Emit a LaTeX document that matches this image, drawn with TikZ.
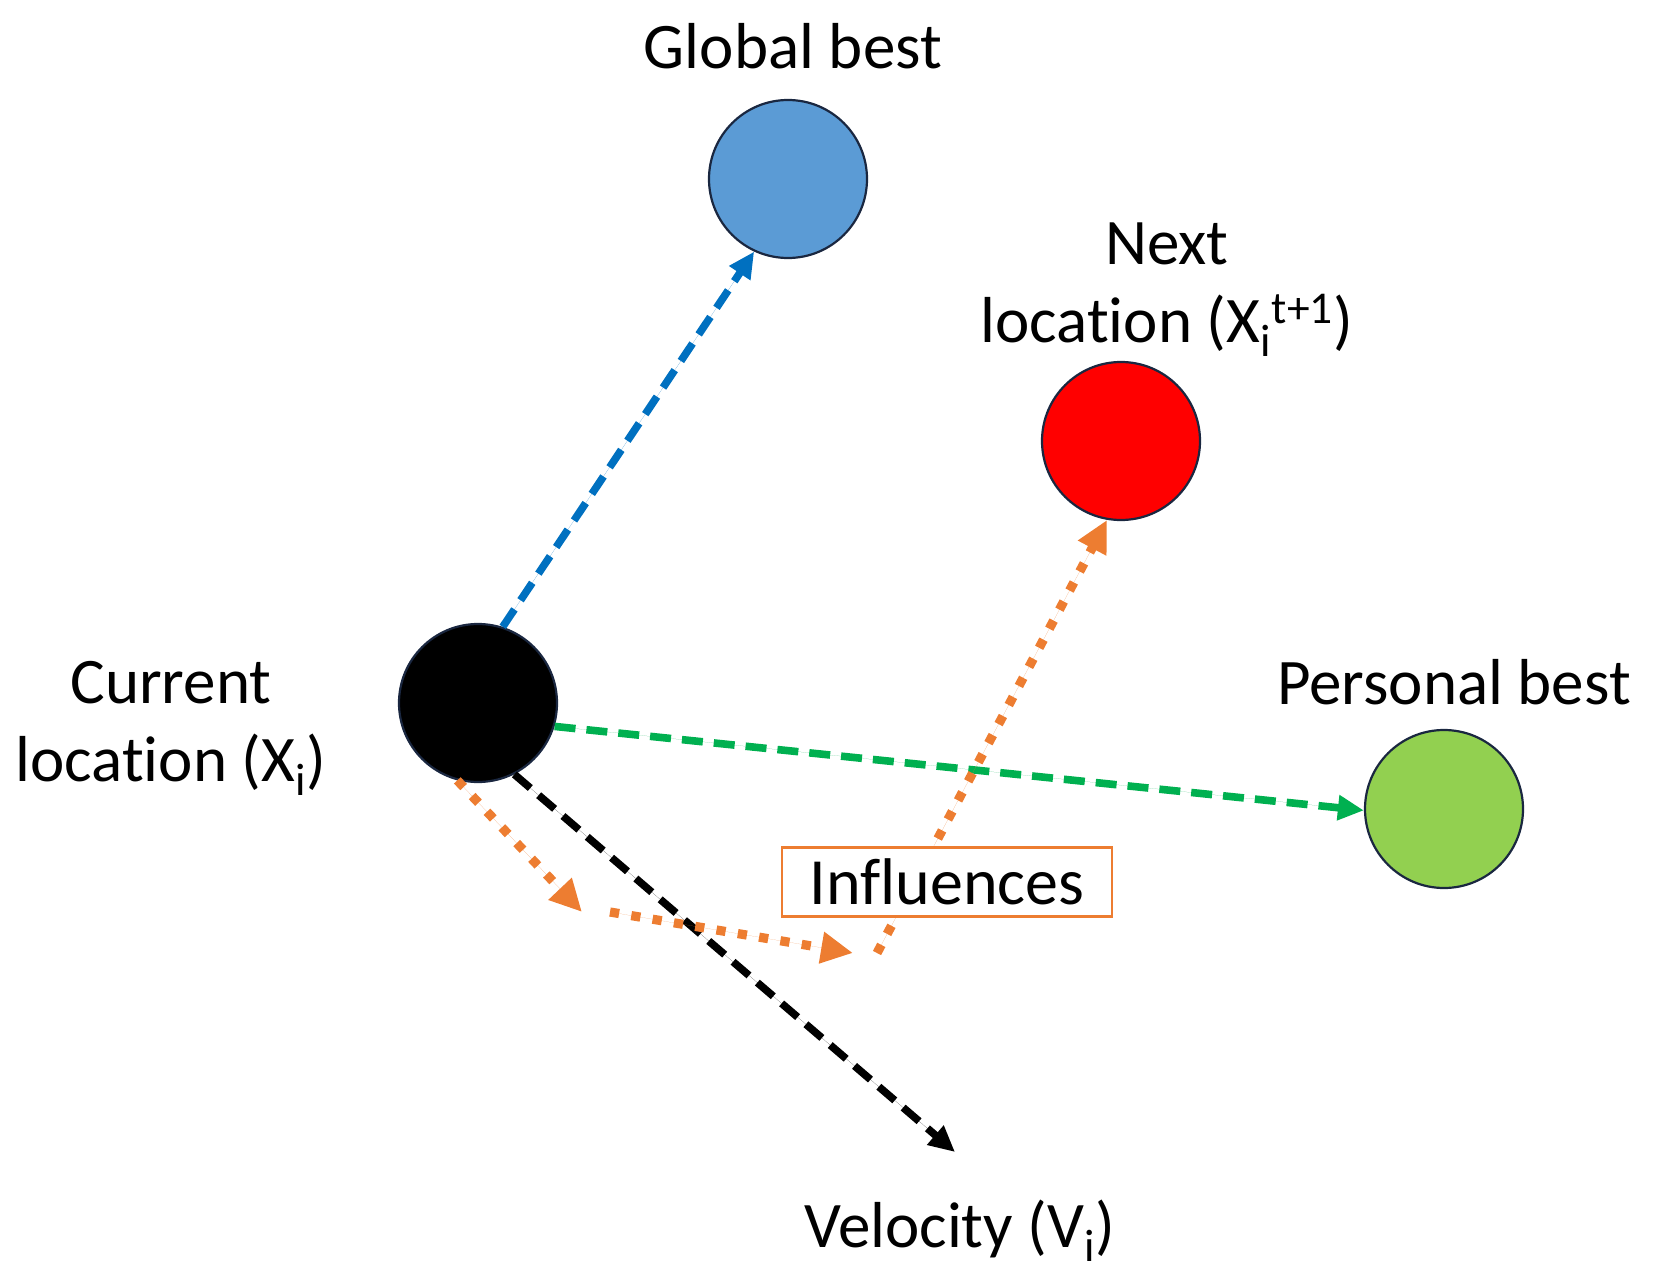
\documentclass[tikz,border=0pt]{standalone}
\usepackage{fontspec}
\setmainfont{Carlito}[Ligatures=NoCommon]
\usetikzlibrary{arrows.meta}
\definecolor{gbfill}{HTML}{5B9BD5}
\definecolor{pbfill}{HTML}{92D050}
\definecolor{nlfill}{HTML}{FF0000}
\definecolor{rim}{HTML}{1A2740}
\definecolor{bluearr}{HTML}{0070C0}
\definecolor{greenarr}{HTML}{00B050}
\definecolor{orangearr}{HTML}{ED7D31}
\tikzset{
  ball/.style={circle, draw=rim, line width=1.1pt, minimum size=79pt, inner sep=0pt},
  lbl/.style={font=\fontsize{32.5}{39}\selectfont, inner sep=0pt, align=center, anchor=base},
  dasharrow/.style={line width=3.8pt, dash pattern=on 10.5pt off 5.5pt, -{Triangle[length=13pt,width=12pt]}},
  dotarrow/.style={draw=orangearr, line width=4.6pt, dash pattern=on 4.6pt off 6.2pt, -{Triangle[length=16pt,width=15pt]}},
  infbox/.style={draw=orangearr, line width=1.3pt, fill=white, minimum width=165pt, minimum height=34.5pt, inner sep=0pt, font=\fontsize{33}{39}\selectfont}
}
\begin{document}
\begin{tikzpicture}[x=0.5pt, y=-0.5pt]
\useasboundingbox (0,0) rectangle (1655,1284);
% circles
\node[ball, fill=gbfill] (gb) at (788,179) {};
\node[ball, fill=nlfill] (nl) at (1121,441) {};
\node[ball, fill=black] (cur) at (478,703) {};
\node[ball, fill=pbfill] (pb) at (1444,809) {};
% labels
\node[lbl] (gbl) at (793,69) {Global best};
\node[lbl] (nll) at (1167,342) {Next\\location (X\textsubscript{i}\textsuperscript{t+1})};
\node[lbl] (curl) at (171,781) {Current\\location (X\textsubscript{i})};
\node[lbl] (pbl) at (1454,704) {Personal best};
\node[lbl] (vell) at (960,1247) {Velocity (V\textsubscript{i})};
% coordinates
\coordinate (vtip) at (955,1152);
\coordinate (o1) at (582,912);
\coordinate (o2) at (610,912);
\coordinate (o3) at (853,953);
\coordinate (o4) at (877,953);
% connectors
\draw[dasharrow, draw=bluearr, fill=bluearr] (cur.72) -- (gb.245);
\draw[dasharrow, draw=greenarr, fill=greenarr] (cur.-17.7) -- (pb.181);
\draw[dasharrow, draw=black, fill=black] (cur.-63) -- (vtip);
\draw[dotarrow, fill=orangearr] (cur.-105) -- (o1);
\draw[dotarrow, fill=orangearr] (o2) -- (o3);
\draw[dotarrow, fill=orangearr] (o4) -- (nl.260);
\node[infbox] (inf) at (947,882) {Influences};
\end{tikzpicture}
\end{document}
